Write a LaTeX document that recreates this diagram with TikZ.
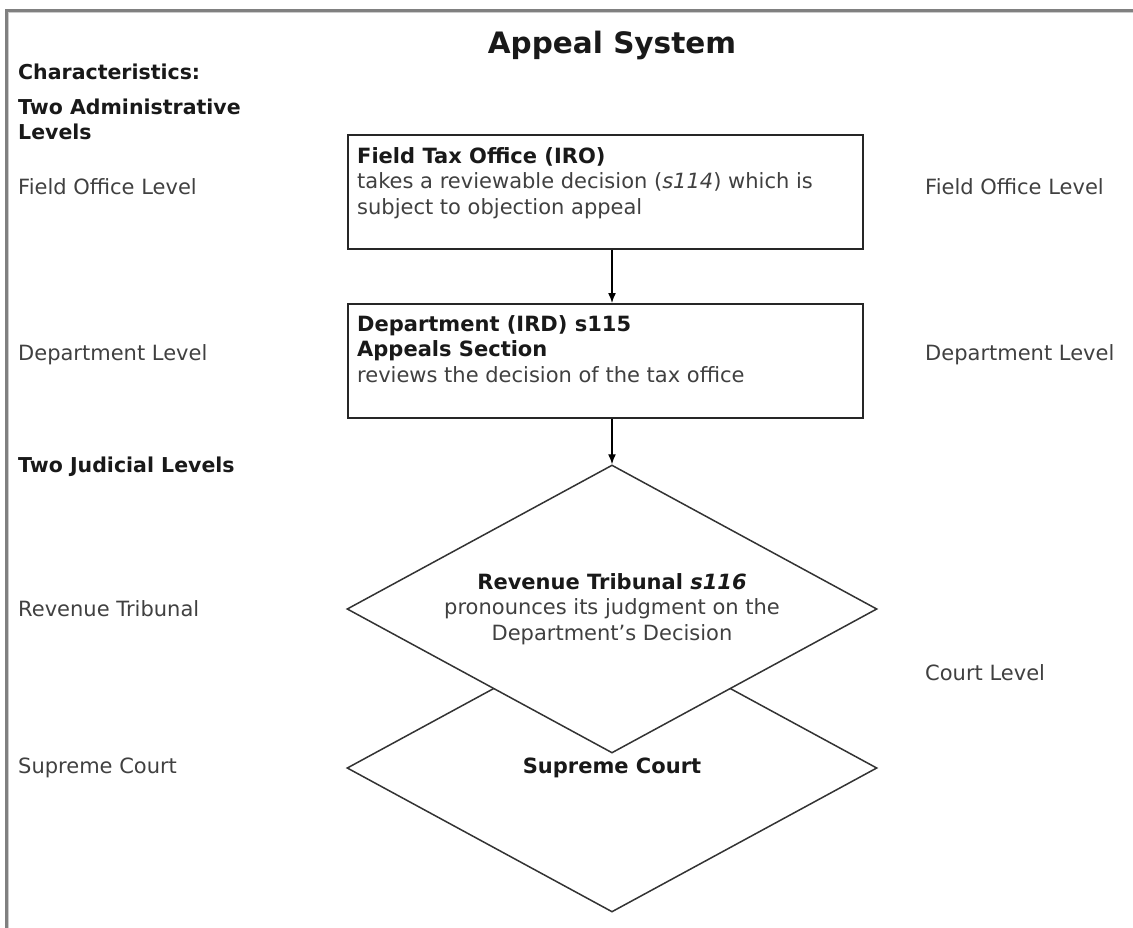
\documentclass[tikz,border=0pt]{standalone}
\usepackage{fontspec}
\setmainfont{DejaVu Sans}
\usetikzlibrary{positioning}
\usetikzlibrary{arrows.meta}
\usetikzlibrary{shapes.geometric}
\tikzset{
    x=1pt, y=-1pt,
    body/.style={font=\fontsize{21}{25.5}\selectfont, text=black!75, inner sep=0pt},
    head/.style={body, font=\fontsize{20.5}{25.5}\selectfont\bfseries, text=black!90},
    side/.style={anchor=west, align=left},
    office/.style={draw=black!85, line width=1.6pt, fill=white, minimum width=515pt, minimum height=114pt, anchor=north west, inner sep=0pt},
    court/.style={diamond, shape aspect=1.84, draw=black!80, line width=1.5pt, fill=white, minimum width=530pt, minimum height=288pt, inner sep=0pt, body, align=center},
    flow/.style={-{Latex[length=10pt, width=8pt]}, line width=1.4pt, black},
    frame/.style={line width=3.5pt, black!50}
}

\begin{document}
\begin{tikzpicture}
\useasboundingbox (0,0) rectangle (1133,928);
\draw[frame] (6.5,928) -- (6.5,10.5) -- (1133,10.5);
\draw[black!20, line width=1pt] (8.8,928) -- (8.8,13) -- (1133,13);

\node[head, font=\fontsize{29.5}{34}\selectfont\bfseries] (title) at (612,45) {Appeal System};

\node[head, side] (chars) at (18,72) {Characteristics:};
\node[head, side] (admin) at (18,119.5) {Two Administrative\\Levels};
\node[body, side] (fieldL) at (18,187) {Field Office Level};
\node[body, side] (deptL) at (18,355) {Department Level};
\node[head, side] (judicial) at (18,467) {Two Judicial Levels};
\node[body, side] (tribL) at (18,609) {Revenue Tribunal};
\node[body, side] (supL) at (18,768) {Supreme Court};

\node[body, side] (fieldR) at (925,187) {Field Office Level};
\node[body, side] (deptR) at (925,355) {Department Level};
\node[body, side] (courtR) at (925,673) {Court Level};

\node[office] (field) at (347,134) {};
\node[body, align=left, anchor=north west] (fieldtext) at ([xshift=10pt, yshift=-13pt]field.north west)
    {{\bfseries\color{black!90}Field Tax Office (IRO)}\\takes a reviewable decision (\textit{s114}) which is\\subject to objection appeal};

\node[office] (dept) at (347,303) {};
\node[body, align=left, anchor=north west] (depttext) at ([xshift=10pt, yshift=-12pt]dept.north west)
    {{\bfseries\color{black!90}Department (IRD) s115}\\{\bfseries\color{black!90}Appeals Section}\\reviews the decision of the tax office};

\node[court] (supreme) at (612,768) {{\bfseries\color{black!90}Supreme Court}};
\node[court] (tribunal) at (612,609)
    {{\bfseries\color{black!90}Revenue Tribunal \textit{s116}}\\pronounces its judgment on the\\Department’s Decision};

\draw[flow] (tribunal.north |- field.south) -- (tribunal.north |- dept.north);
\draw[flow] (tribunal.north |- dept.south) -- (tribunal.north);
\end{tikzpicture}
\end{document}
